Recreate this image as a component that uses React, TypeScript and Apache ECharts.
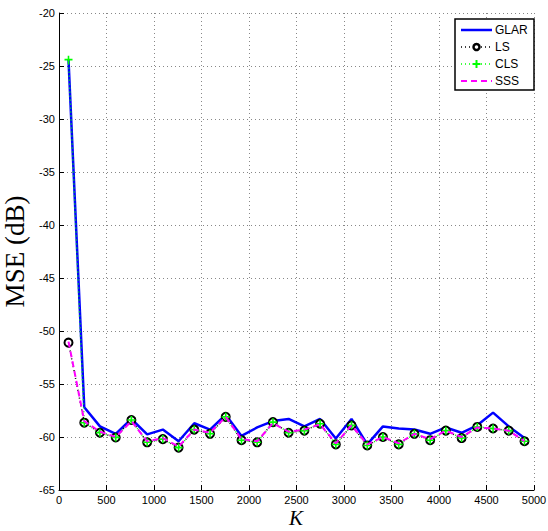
import React, { useEffect, useRef } from "react";
import * as echarts from "echarts";

const K = [100, 266, 431, 597, 762, 928, 1093, 1259, 1424, 1590, 1755, 1921, 2086, 2252, 2417, 2583, 2748, 2914, 3079, 3245, 3410, 3576, 3741, 3907, 4072, 4238, 4403, 4569, 4734, 4900];
const GLAR = [-24.4, -57.2, -59.0, -59.7, -58.3, -59.75, -59.3, -60.4, -58.7, -59.3, -57.9, -59.9, -59.1, -58.5, -58.3, -59.0, -58.3, -60.15, -58.3, -60.7, -59.0, -59.2, -59.3, -59.7, -59.1, -59.6, -58.9, -57.7, -59.0, -60.1];
const LS = [-51.1, -58.65, -59.6, -60.05, -58.4, -60.5, -60.2, -61.0, -59.3, -59.7, -58.1, -60.3, -60.5, -58.6, -59.6, -59.4, -58.75, -60.7, -58.9, -60.8, -60.0, -60.7, -59.7, -60.3, -59.4, -60.1, -59.05, -59.2, -59.4, -60.4];
const CLS = [-24.4, -58.65, -59.6, -60.05, -58.4, -60.5, -60.2, -61.0, -59.3, -59.7, -58.1, -60.3, -60.5, -58.6, -59.6, -59.4, -58.75, -60.7, -58.9, -60.8, -60.0, -60.7, -59.7, -60.3, -59.4, -60.1, -59.05, -59.2, -59.4, -60.4];
const SSS = [-51.0, -58.5, -59.5, -60.0, -58.5, -60.4, -60.1, -60.9, -59.3, -59.6, -58.1, -60.2, -60.4, -58.7, -59.5, -59.3, -58.8, -60.6, -58.9, -60.7, -60.0, -60.6, -59.7, -60.2, -59.4, -60.0, -59.1, -59.2, -59.4, -60.4];
const LEGEND = ["GLAR", "LS", "CLS", "SSS"];
const X_NAME = "K";
const Y_NAME = "MSE (dB)";

const pairs = (ys: number[]) => K.map((k, i) => [k, ys[i]]);
const tickFont = "'Liberation Sans', Arial, sans-serif";
const serif = "'Liberation Serif', 'Times New Roman', serif";
const plusPath = "path://M4,0H6V4H10V6H6V10H4V6H0V4H4Z";

export default function App() {
  const ref = useRef<HTMLDivElement>(null);
  useEffect(() => {
    if (!ref.current) return;
    const chart = echarts.init(ref.current, null, { renderer: "svg" });
    const splitLine = { show: true, lineStyle: { color: "#888", type: [1, 3] as any, width: 1 } };

    // legend drawn with graphic elements
    const lx0 = 461, lx1 = 492, tx = 495, rows = [30, 47, 64, 81];
    const legendEls: any[] = [
      { type: "rect", shape: { x: 455, y: 19, width: 79, height: 71 }, style: { fill: "#fff", stroke: "#000", lineWidth: 1.5 }, z: 100 },
    ];
    const lineStyles = [
      { stroke: "#0000ff", lineWidth: 2.5 },
      { stroke: "#000", lineWidth: 1.5, lineDash: [1, 3] },
      { stroke: "#00ff00", lineWidth: 1.5, lineDash: [1, 3] },
      { stroke: "#ff00ff", lineWidth: 2, lineDash: [6, 4] },
    ];
    LEGEND.forEach((name, i) => {
      legendEls.push({ type: "line", shape: { x1: lx0, y1: rows[i], x2: lx1, y2: rows[i] }, style: lineStyles[i], z: 101 });
      legendEls.push({ type: "text", x: tx, y: rows[i], style: { text: name, fill: "#000", font: `12px ${tickFont}`, verticalAlign: "middle" }, z: 101 });
    });
    legendEls.push({ type: "circle", shape: { cx: (lx0 + lx1) / 2, cy: rows[1], r: 3 }, style: { fill: "#fff", stroke: "#000", lineWidth: 2.5 }, z: 102 });
    legendEls.push({ type: "rect", shape: { x: (lx0 + lx1) / 2 - 4, y: rows[2] - 1, width: 8, height: 2 }, style: { fill: "#00ff00" }, z: 102 });
    legendEls.push({ type: "rect", shape: { x: (lx0 + lx1) / 2 - 1, y: rows[2] - 4, width: 2, height: 8 }, style: { fill: "#00ff00" }, z: 102 });
    legendEls.push({
      type: "text", x: 296, y: 518,
      style: { text: X_NAME, fill: "#000", font: `italic 21px ${serif}`, align: "center", verticalAlign: "middle" },
    });

    chart.setOption({
      animation: false,
      backgroundColor: "#fff",
      grid: { left: 59, right: 14, top: 13, bottom: 41, containLabel: false, outerBoundsMode: "none" },
      xAxis: {
        type: "value", min: 0, max: 5000, interval: 500,
        axisLine: { show: true, onZero: false, lineStyle: { color: "#000", width: 1 } },
        axisTick: { show: true, inside: true, length: 5, lineStyle: { color: "#000" } },
        axisLabel: { color: "#000", fontSize: 11, fontFamily: tickFont, margin: 4, formatter: (v: number) => String(v) },
        splitLine,
      },
      yAxis: {
        type: "value", min: -65, max: -20, interval: 5,
        name: Y_NAME, nameLocation: "middle", nameGap: 30,
        nameTextStyle: { fontFamily: serif, fontSize: 27, color: "#000" },
        axisLine: { show: true, onZero: false, lineStyle: { color: "#000", width: 1 } },
        axisTick: { show: true, inside: true, length: 5, lineStyle: { color: "#000" } },
        axisLabel: { color: "#000", fontSize: 11, fontFamily: tickFont, margin: 4, formatter: (v: number) => String(v) },
        splitLine,
      },
      graphic: legendEls,
      series: [
        {
          name: "GLAR", type: "line", data: pairs(GLAR), symbol: "none", z: 2,
          lineStyle: { color: "#0000ff", width: 2.5 }, itemStyle: { color: "#0000ff" },
        },
        {
          name: "LS", type: "line", data: pairs(LS), symbol: "emptyCircle", symbolSize: 8, z: 3,
          lineStyle: { color: "#000", width: 1.5, type: [1, 3] },
          itemStyle: { color: "#000", borderColor: "#000", borderWidth: 2.5 },
        },
        {
          name: "CLS", type: "line", data: pairs(CLS), symbol: plusPath, symbolSize: 8, z: 4,
          lineStyle: { color: "#00ff00", width: 1.5, type: [1, 3] },
          itemStyle: { color: "#00ff00", borderWidth: 0 },
        },
        {
          name: "SSS", type: "line", data: pairs(SSS), symbol: "none", z: 5,
          lineStyle: { color: "#ff00ff", width: 2, type: [6, 4] },
          itemStyle: { color: "#ff00ff" },
        },
      ],
    });
    return () => chart.dispose();
  }, []);
  return <div ref={ref} style={{ width: 548, height: 531, position: "absolute", left: 0, top: 0 }} />;
}
